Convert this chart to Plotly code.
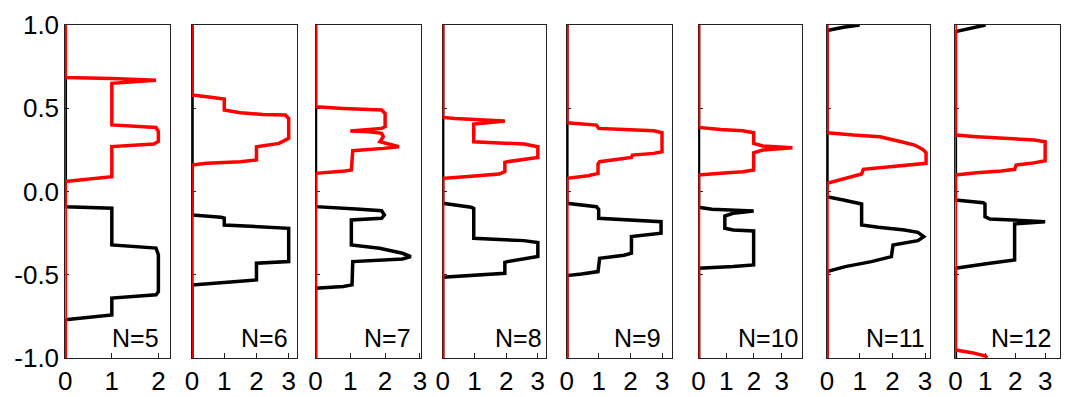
import plotly.graph_objects as go

# ---- data: histogram outlines (count along x, position along y), top to bottom ----
n5_red_count = [0, 0, 1.0, 1.95, 1.0, 1.0, 1.95, 2.0, 2.0, 1.9, 1.0, 1.0, 0, 0]
n5_red_pos = [1.0, 0.685, 0.678, 0.668, 0.650, 0.40, 0.385, 0.36, 0.30, 0.285, 0.27, 0.089, 0.06, -1.0]
n5_blk_count = [0, 0, 1.0, 1.0, 1.95, 2.0, 2.0, 1.95, 1.0, 1.0, 0, 0]
n5_blk_pos = [1.0, -0.091, -0.10, -0.321, -0.34, -0.38, -0.602, -0.62, -0.64, -0.742, -0.77, -1.0]

n6_red_count = [0, 0, 0.4, 0.95, 1.0, 1.0, 1.5, 2.2, 2.9, 3.0, 3.0, 2.7, 2.0, 2.0, 1.5, 0.45, 0, 0]
n6_red_pos = [1.0, 0.580, 0.570, 0.560, 0.555, 0.490, 0.473, 0.463, 0.459, 0.439, 0.319, 0.289, 0.269, 0.189, 0.179, 0.169, 0.159, -1.0]
n6_blk_count = [0, 0, 0.9, 1.0, 1.0, 1.9, 2.7, 3.0, 3.0, 2.0, 2.0, 0.9, 0, 0]
n6_blk_pos = [1.0, -0.141, -0.155, -0.16, -0.201, -0.212, -0.218, -0.221, -0.421, -0.431, -0.531, -0.547, -0.561, -1.0]

n7_red_count = [0, 0, 0.8, 1.9, 2.0, 2.0, 1.9, 1.0, 1.55, 1.9, 1.95, 1.85, 2.4, 1.95, 1.07, 1.03, 0.85, 0, 0]
n7_red_pos = [1.0, 0.509, 0.499, 0.489, 0.469, 0.389, 0.379, 0.363, 0.359, 0.349, 0.329, 0.299, 0.269, 0.259, 0.245, 0.129, 0.123, 0.109, -1.0]
n7_blk_count = [0, 0, 1.17, 1.9, 1.98, 1.9, 1.03, 1.03, 1.84, 2.5, 2.74, 2.5, 1.07, 1.05, 0.8, 0, 0]
n7_blk_pos = [1.0, -0.091, -0.105, -0.115, -0.141, -0.161, -0.171, -0.321, -0.341, -0.371, -0.391, -0.405, -0.421, -0.561, -0.571, -0.581, -1.0]

n8_red_count = [0, 0, 0.38, 1.19, 1.96, 1.42, 0.98, 0.98, 1.78, 2.56, 3.0, 3.0, 2.04, 1.96, 1.96, 1.78, 0.7, 0, 0]
n8_red_pos = [1.0, 0.445, 0.439, 0.429, 0.423, 0.413, 0.405, 0.299, 0.293, 0.285, 0.269, 0.205, 0.179, 0.175, 0.119, 0.105, 0.089, 0.079, -1.0]
n8_blk_count = [0, 0, 0.9, 0.98, 0.98, 1.78, 2.56, 3.0, 3.0, 2.04, 1.96, 1.96, 0.8, 0, 0]
n8_blk_pos = [1.0, -0.071, -0.095, -0.101, -0.281, -0.287, -0.295, -0.307, -0.391, -0.421, -0.425, -0.491, -0.505, -0.515, -1.0]

n9_red_count = [0, 0, 0.93, 1.0, 1.8, 2.73, 2.99, 2.99, 2.73, 2.06, 2.03, 1.03, 0.98, 0.98, 0.67, 0, 0]
n9_red_pos = [1.0, 0.413, 0.399, 0.379, 0.373, 0.365, 0.353, 0.239, 0.229, 0.219, 0.205, 0.179, 0.165, 0.109, 0.095, 0.079, -1.0]
n9_blk_count = [0, 0, 0.93, 1.0, 1.0, 1.8, 2.63, 2.96, 2.96, 2.03, 2.03, 1.8, 1.03, 0.98, 0.46, 0, 0]
n9_blk_pos = [1.0, -0.071, -0.091, -0.107, -0.161, -0.171, -0.177, -0.181, -0.251, -0.271, -0.371, -0.383, -0.401, -0.481, -0.495, -0.505, -1.0]

n10_red_count = [0, 0, 0.8, 1.6, 1.99, 1.99, 2.32, 3.39, 2.32, 1.99, 1.99, 1.6, 0.8, 0, 0]
n10_red_pos = [1.0, 0.385, 0.373, 0.365, 0.353, 0.289, 0.273, 0.263, 0.249, 0.233, 0.129, 0.119, 0.109, 0.099, -1.0]
n10_blk_count = [0, 0, 0.48, 1.31, 1.99, 1.25, 0.95, 0.95, 1.25, 1.99, 1.99, 1.25, 0, 0]
n10_blk_pos = [1.0, -0.095, -0.107, -0.115, -0.117, -0.131, -0.147, -0.221, -0.231, -0.237, -0.441, -0.451, -0.461, -1.0]

n11_red_count = [0, 0, 0.81, 1.62, 2.27, 2.68, 2.93, 3.03, 3.03, 1.97, 1.11, 1.06, 0.56, 0, 0]
n11_red_pos = [1.0, 0.353, 0.339, 0.329, 0.299, 0.279, 0.253, 0.233, 0.169, 0.149, 0.133, 0.105, 0.079, 0.049, -1.0]
n11_blk_count = [1.0, 0.5, 0, 0, 0.5, 1.06, 1.06, 1.57, 2.37, 2.78, 2.96, 2.78, 2.02, 1.97, 1.36, 0.56, 0, 0]
n11_blk_pos = [1.0, 0.986, 0.966, -0.031, -0.051, -0.075, -0.201, -0.215, -0.231, -0.245, -0.271, -0.295, -0.321, -0.391, -0.421, -0.451, -0.481, -1.0]

n12_red_count = [0, 0, 0.71, 1.54, 2.64, 3.0, 3.0, 2.53, 2.03, 1.98, 1.54, 0.71, 0, 0, 0.55, 1.01, 1.05]
n12_red_pos = [1.0, 0.339, 0.329, 0.319, 0.309, 0.299, 0.185, 0.169, 0.159, 0.133, 0.123, 0.113, 0.099, -0.952, -0.968, -0.988, -1.0]
n12_blk_count = [1.01, 0.77, 0.27, 0, 0, 0.93, 0.99, 0.99, 1.15, 1.98, 3.0, 1.98, 1.98, 1.15, 0, 0]
n12_blk_pos = [1.0, 0.99, 0.974, 0.96, -0.051, -0.067, -0.075, -0.151, -0.165, -0.171, -0.181, -0.195, -0.411, -0.431, -0.461, -1.0]

panel_labels = ["N=5", "N=6", "N=7", "N=8", "N=9", "N=10", "N=11", "N=12"]
x_max = [2.25, 3.25, 3.03, 3.26, 3.29, 3.72, 3.15, 3.49]
x_tick_vals = [[0, 1, 2], [0, 1, 2, 3], [0, 1, 2, 3], [0, 1, 2, 3],
               [0, 1, 2, 3], [0, 1, 2, 3], [0, 1, 2, 3], [0, 1, 2, 3]]
y_tick_vals = [-1.0, -0.5, 0.0, 0.5, 1.0]
y_tick_text = ["-1.0", "-0.5", "0.0", "0.5", "1.0"]

red_counts = [n5_red_count, n6_red_count, n7_red_count, n8_red_count,
              n9_red_count, n10_red_count, n11_red_count, n12_red_count]
red_pos = [n5_red_pos, n6_red_pos, n7_red_pos, n8_red_pos,
           n9_red_pos, n10_red_pos, n11_red_pos, n12_red_pos]
blk_counts = [n5_blk_count, n6_blk_count, n7_blk_count, n8_blk_count,
              n9_blk_count, n10_blk_count, n11_blk_count, n12_blk_count]
blk_pos = [n5_blk_pos, n6_blk_pos, n7_blk_pos, n8_blk_pos,
           n9_blk_pos, n10_blk_pos, n11_blk_pos, n12_blk_pos]

# ---- layout geometry (pixels of a 1074 wide canvas) ----
W, H = 1074, 397
panel_px = [(59, 165), (187.3, 293.3), (312.3, 419), (441, 545.7),
            (566.7, 672.7), (700, 804.3), (830, 934.3), (960, 1065.7)]
label_right_px = [156, 286, 411, 544, 664, 803, 931, 1059]

FONT = "Liberation Sans, Arial, sans-serif"
FS_TICK = 26
FS_LABEL = 25

fig = go.Figure()
layout = dict(
    width=W, height=H,
    margin=dict(l=0, r=0, t=25, b=39),
    paper_bgcolor="white", plot_bgcolor="white",
    showlegend=False,
    font=dict(family=FONT, size=FS_TICK, color="black"),
)
annotations = []
for i in range(8):
    k = "" if i == 0 else str(i + 1)
    xa, ya = "x" + k, "y" + k
    fig.add_trace(go.Scatter(x=blk_counts[i], y=blk_pos[i], mode="lines",
                             line=dict(color="black", width=3.5), xaxis=xa, yaxis=ya,
                             hoverinfo="skip"))
    fig.add_trace(go.Scatter(x=red_counts[i], y=red_pos[i], mode="lines",
                             line=dict(color="#ff0000", width=3.5), xaxis=xa, yaxis=ya,
                             hoverinfo="skip"))
    x0, x1 = panel_px[i]
    layout["xaxis" + k] = dict(
        domain=[x0 / W, x1 / W], range=[0, x_max[i]], anchor=ya,
        showline=True, mirror=True, linecolor="#222", linewidth=1,
        ticks="inside", ticklen=5, tickcolor="#222",
        tickmode="array", tickvals=x_tick_vals[i],
        showgrid=False, zeroline=False, layer="below traces",
        tickfont=dict(family=FONT, size=FS_TICK, color="black"),
        fixedrange=True,
    )
    layout["yaxis" + k] = dict(
        domain=[0, 1], range=[-1, 1], anchor=xa,
        showline=True, mirror=True, linecolor="#222", linewidth=1,
        ticks="inside", ticklen=4, tickcolor="#222",
        tickmode="array", tickvals=y_tick_vals, ticktext=y_tick_text,
        showticklabels=(i == 0),
        showgrid=False, zeroline=False, layer="below traces",
        tickfont=dict(family=FONT, size=FS_TICK, color="black"),
        fixedrange=True,
    )
    annotations.append(dict(
        text=panel_labels[i], xref="paper", yref="paper",
        x=label_right_px[i] / W, y=0.06, xanchor="right", yanchor="middle",
        showarrow=False, font=dict(family=FONT, size=FS_LABEL, color="black"),
    ))
layout["annotations"] = annotations
fig.update_layout(**layout)
fig.write_html("out.html")
